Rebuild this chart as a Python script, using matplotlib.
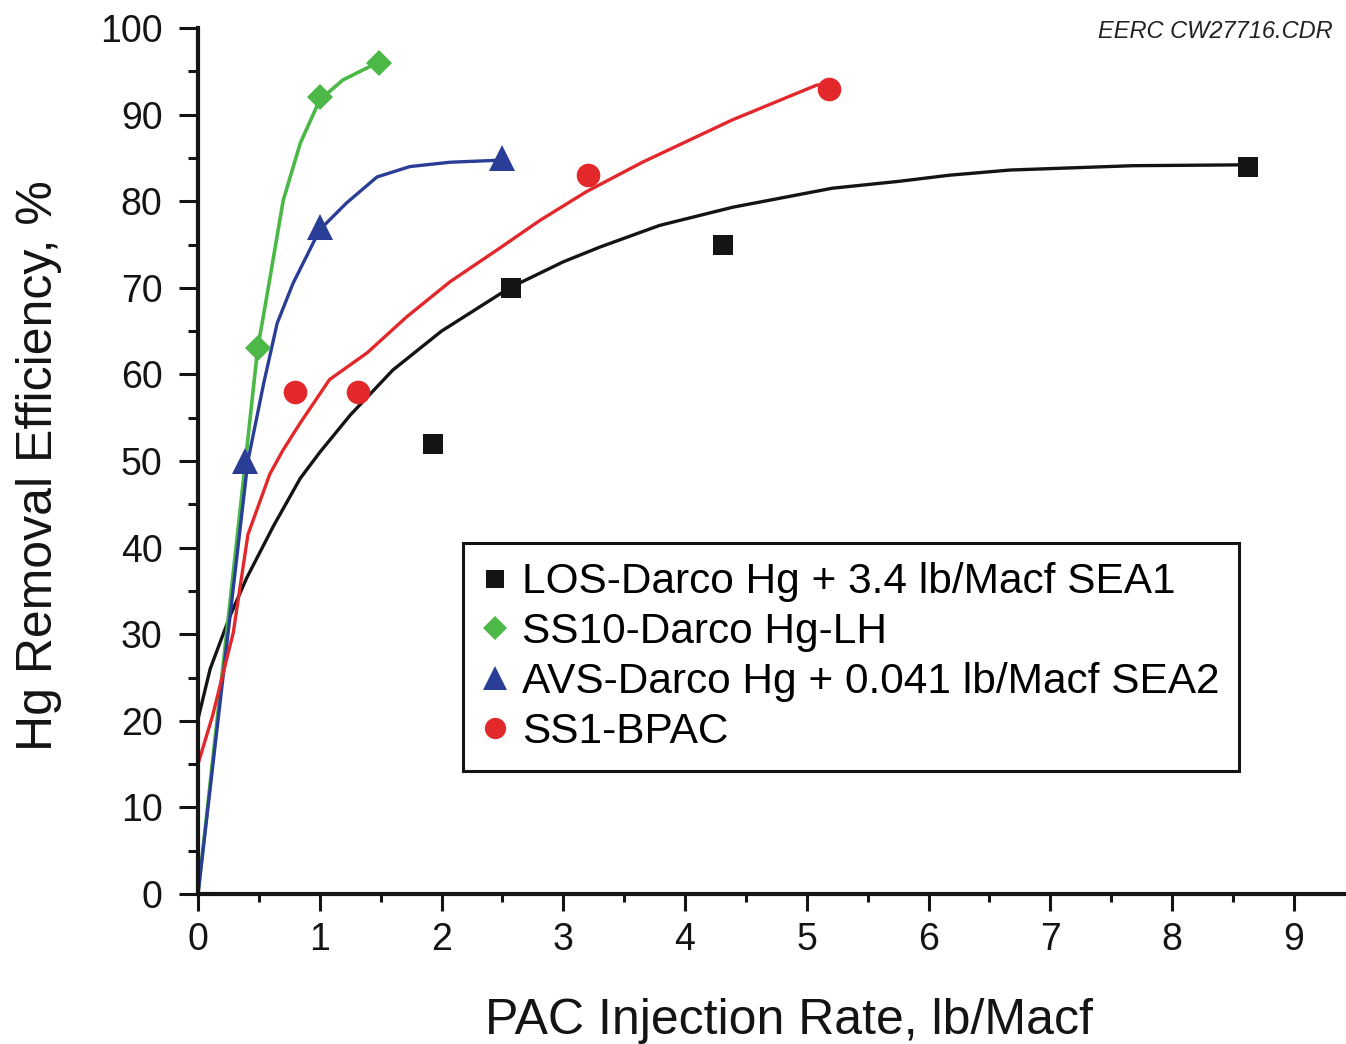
import matplotlib.pyplot as plt
from matplotlib.ticker import MultipleLocator

plt.rcParams['font.family'] = ['Liberation Sans', 'DejaVu Sans']

# measured points
los_x = [1.93, 2.57, 4.31, 8.62]
los_y = [52, 70, 75, 84]
ss10_x = [0.49, 1.0, 1.49]
ss10_y = [63, 92, 96]
avs_x = [0.39, 1.0, 2.5]
avs_y = [50, 77, 85]
ss1_x = [0.8, 1.31, 3.2, 5.18]
ss1_y = [58, 58, 83, 93]

# trend curves
los_cx = [0, 0.1, 0.26, 0.40, 0.62, 0.84, 1.0, 1.25, 1.6, 2.0, 2.56, 3.0,
          3.3, 3.79, 4.39, 5.21, 5.76, 6.17, 6.67, 7.68, 8.6]
los_cy = [20.2, 26, 32, 36.5, 42.5, 48, 51, 55.3, 60.5, 65, 70, 73,
          74.7, 77.2, 79.3, 81.5, 82.3, 83.0, 83.6, 84.1, 84.2]
ss10_cx = [0, 0.40, 0.49, 0.56, 0.70, 0.84, 1.0, 1.19, 1.49]
ss10_cy = [0, 51.3, 63, 68.6, 80.1, 86.7, 91.7, 94, 96.1]
avs_cx = [0, 0.41, 0.54, 0.65, 0.78, 1.0, 1.22, 1.47, 1.74, 2.07, 2.42, 2.5]
avs_cy = [0, 50, 59, 65.9, 70.5, 76.7, 79.8, 82.8, 84, 84.5, 84.7, 84.8]
ss1_cx = [0, 0.12, 0.29, 0.41, 0.59, 0.70, 0.84, 1.08, 1.39, 1.71, 2.07,
          2.48, 2.81, 3.19, 3.65, 4.39, 5.08, 5.18]
ss1_cy = [15, 20.6, 30.2, 41.5, 48.5, 51.3, 54.4, 59.4, 62.5, 66.6, 70.7,
          74.6, 77.8, 81.1, 84.5, 89.4, 93.4, 93.5]

labels = ['LOS-Darco Hg + 3.4 lb/Macf SEA1',
          'SS10-Darco Hg-LH',
          'AVS-Darco Hg + 0.041 lb/Macf SEA2',
          'SS1-BPAC']

black = '#141414'
green = '#4cb848'
blue = '#2a3e97'
red = '#e3282c'

fig = plt.figure(figsize=(13.46, 10.44), dpi=100)
ax = fig.add_axes([198 / 1346, 1 - 894 / 1044, 1147 / 1346, 866 / 1044])

ax.plot(los_cx, los_cy, color=black, lw=2.4, zorder=2)
ax.plot(ss10_cx, ss10_cy, color=green, lw=2.6, zorder=2)
ax.plot(avs_cx, avs_cy, color=blue, lw=2.4, zorder=2)
ax.plot(ss1_cx, ss1_cy, color=red, lw=2.4, zorder=2)

ax.plot(los_x, los_y, 's', color=black, ms=14.5, mew=0, label=labels[0], zorder=3, clip_on=False)
ax.plot(ss10_x, ss10_y, 'D', color=green, ms=13.5, mew=0, label=labels[1], zorder=3, clip_on=False)
ax.plot(avs_x, avs_y, '^', color=blue, ms=19, mew=0, label=labels[2], zorder=3, clip_on=False)
ax.plot(ss1_x, ss1_y, 'o', color=red, ms=17, mew=0, label=labels[3], zorder=3, clip_on=False)

ax.set_xlim(0, 9.42)
ax.set_ylim(0, 100)
ax.xaxis.set_major_locator(MultipleLocator(1))
ax.xaxis.set_minor_locator(MultipleLocator(0.5))
ax.yaxis.set_major_locator(MultipleLocator(10))
ax.yaxis.set_minor_locator(MultipleLocator(5))

for s in ['top', 'right']:
    ax.spines[s].set_visible(False)
for s in ['left', 'bottom']:
    ax.spines[s].set_linewidth(3)
    ax.spines[s].set_color(black)

ax.tick_params(axis='y', which='major', direction='out', length=13.5, width=2.2,
               pad=12, labelsize=27, colors=black)
ax.tick_params(axis='y', which='minor', direction='out', length=7, width=2.2, colors=black)
ax.tick_params(axis='x', which='major', direction='out', length=12, width=2.2,
               pad=8, labelsize=27, colors=black)
ax.tick_params(axis='x', which='minor', direction='out', length=6, width=2.2, colors=black)

ax.set_xlabel('PAC Injection Rate, lb/Macf', fontsize=36, color=black)
ax.set_ylabel('Hg Removal Efficiency, %', fontsize=36, color=black)
ax.xaxis.set_label_coords(0.515, -0.12)
ax.yaxis.set_label_coords(-0.119, 0.495)

leg = ax.legend(loc='upper left', bbox_to_anchor=(0.231, 0.405), borderaxespad=0,
                fontsize=30.5, frameon=True, fancybox=False, framealpha=1,
                edgecolor=black, borderpad=0.45, labelspacing=0.23,
                handlelength=0.6, handletextpad=0.35, markerscale=0.9)
leg.get_frame().set_linewidth(2.2)

fig.text(1333 / 1346, 1 - 31 / 1044, 'EERC CW27716.CDR', fontsize=17,
         style='italic', ha='right', va='center', color='#222222')

fig.savefig('out.png', dpi=100)
